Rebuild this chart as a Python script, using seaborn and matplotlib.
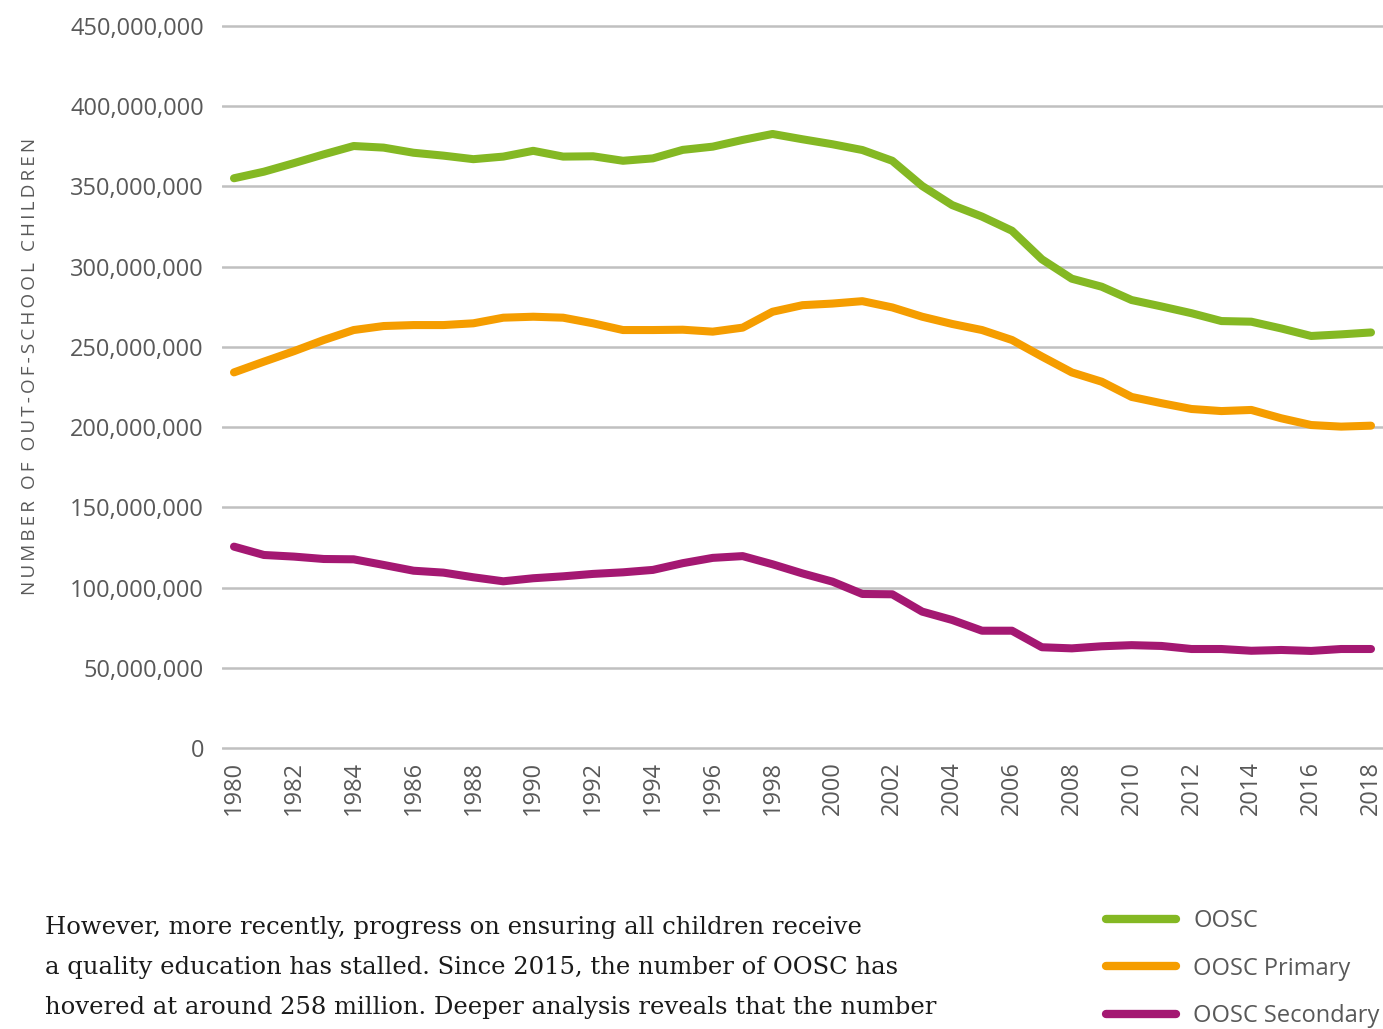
import matplotlib
matplotlib.use("Agg")
import matplotlib.pyplot as plt
import pandas as pd
import seaborn as sns
from matplotlib.ticker import FuncFormatter

# Out-of-school children, 1980-2018 (millions)
years = list(range(1980, 2019))
oosc = [355.1, 359.2, 364.5, 370.0, 375.2, 374.2, 371.0, 369.2, 367.0, 368.6,
        372.2, 368.6, 368.8, 366.0, 367.5, 372.8, 374.8, 379.0, 382.7, 379.4,
        376.3, 372.7, 366.0, 350.3, 338.4, 331.2, 322.4, 304.6, 292.5, 287.5,
        279.2, 275.2, 271.0, 266.1, 265.7, 261.5, 256.8, 257.8, 259.0]
oosc_primary = [234.1, 240.8, 247.3, 254.3, 260.5, 263.0, 263.6, 263.6, 264.7, 268.2,
                268.8, 268.2, 264.7, 260.5, 260.5, 260.7, 259.5, 262.0, 271.9, 276.0,
                277.0, 278.5, 274.6, 268.8, 264.3, 260.5, 254.3, 244.0, 234.1, 228.3,
                218.8, 214.9, 211.3, 210.0, 210.7, 205.5, 201.3, 200.3, 200.9]
oosc_secondary = [125.5, 120.3, 119.3, 117.8, 117.6, 114.1, 110.5, 109.3, 106.4, 103.9,
                  105.8, 107.0, 108.5, 109.5, 111.0, 115.2, 118.5, 119.6, 114.5, 108.8,
                  103.7, 96.0, 95.8, 85.0, 79.8, 73.1, 73.1, 62.8, 62.1, 63.4,
                  64.1, 63.6, 61.7, 61.7, 60.6, 61.1, 60.5, 61.7, 61.7]
series_names = ["OOSC", "OOSC Primary", "OOSC Secondary"]
series_colors = ["#84b823", "#f59d00", "#a41872"]
x_ticks = list(range(1980, 2019, 2))
y_ticks = list(range(0, 450_000_001, 50_000_000))

df = pd.concat([
    pd.DataFrame({"year": years, "children": [v * 1e6 for v in vals], "series": name})
    for name, vals in zip(series_names, [oosc, oosc_primary, oosc_secondary])
])

sns.set_theme(style="white")
plt.rcParams["font.family"] = ["Open Sans", "DejaVu Sans"]

W, H = 1383, 1029
fig = plt.figure(figsize=(W / 100, H / 100), dpi=100)

# plot area in pixels
px_per_m = 722 / 450.0
y_lo, y_hi = -3.0, 453.0
ax_left, ax_right = 222, 1383
ax_top = 748 - y_hi * px_per_m
ax_bot = 748 - y_lo * px_per_m
ax = fig.add_axes([ax_left / W, 1 - ax_bot / H, (ax_right - ax_left) / W, (ax_bot - ax_top) / H])

line_w = 5.8
sns.lineplot(data=df, x="year", y="children", hue="series", hue_order=series_names,
             palette=series_colors, linewidth=line_w, ax=ax, legend=False,
             solid_capstyle="round", solid_joinstyle="round", zorder=3)

px_per_year = (1371 - 234) / 38.0
ax.set_xlim(1980 - 12 / px_per_year, 2018 + 12 / px_per_year)
ax.set_ylim(y_lo * 1e6, y_hi * 1e6)

ax.set_yticks(y_ticks)
ax.yaxis.set_major_formatter(FuncFormatter(lambda v, p: f"{int(round(v)):,}"))
ax.set_xticks(x_ticks)
ax.set_xticklabels([str(y) for y in x_ticks], rotation=90)
ax.tick_params(axis="both", length=0, labelsize=17, colors="#595959")
ax.tick_params(axis="y", pad=13)
ax.tick_params(axis="x", pad=6)
for s in ax.spines.values():
    s.set_visible(False)
ax.grid(axis="y", color="#c0c0c0", linewidth=1.8, zorder=0)
ax.grid(axis="x", visible=False)
ax.set_xlabel("")
ax.set_ylabel("")

# spaced-out axis title
title = "NUMBER OF OUT-OF-SCHOOL CHILDREN"
spaced = "\u2009".join(title)
fig.text(30 / W, 1 - 366 / H, spaced, rotation=90, ha="center", va="center",
         fontsize=13.6, color="#595959", family=["Open Sans", "DejaVu Sans"])

# legend
handles = [plt.Line2D([], [], color=c, linewidth=6.0, solid_capstyle="round") for c in series_colors]
leg = fig.legend(handles, series_names, loc="upper left",
                 bbox_to_anchor=(1106 / W, 1 - 909 / H), frameon=False,
                 fontsize=17, handlelength=2.95, handletextpad=0.75,
                 labelspacing=1.0, borderaxespad=0, borderpad=0)
for t in leg.get_texts():
    t.set_color("#595959")

# body text below the chart
body = ["However, more recently, progress on ensuring all children receive",
        "a quality education has stalled. Since 2015, the number of OOSC has",
        "hovered at around 258 million. Deeper analysis reveals that the number"]
fig.canvas.draw()
renderer = fig.canvas.get_renderer()
probe = fig.text(0, 0, body[0], fontsize=18, family="DejaVu Serif")
w = probe.get_window_extent(renderer).width
probe.remove()
body_size = 18 * (815 / w)
for i, line in enumerate(body):
    fig.text(45 / W, 1 - (934 + 40 * i) / H, line, fontsize=body_size,
             family="DejaVu Serif", color="#1a1a1a", va="baseline", ha="left")

fig.savefig("out.png", dpi=100)
